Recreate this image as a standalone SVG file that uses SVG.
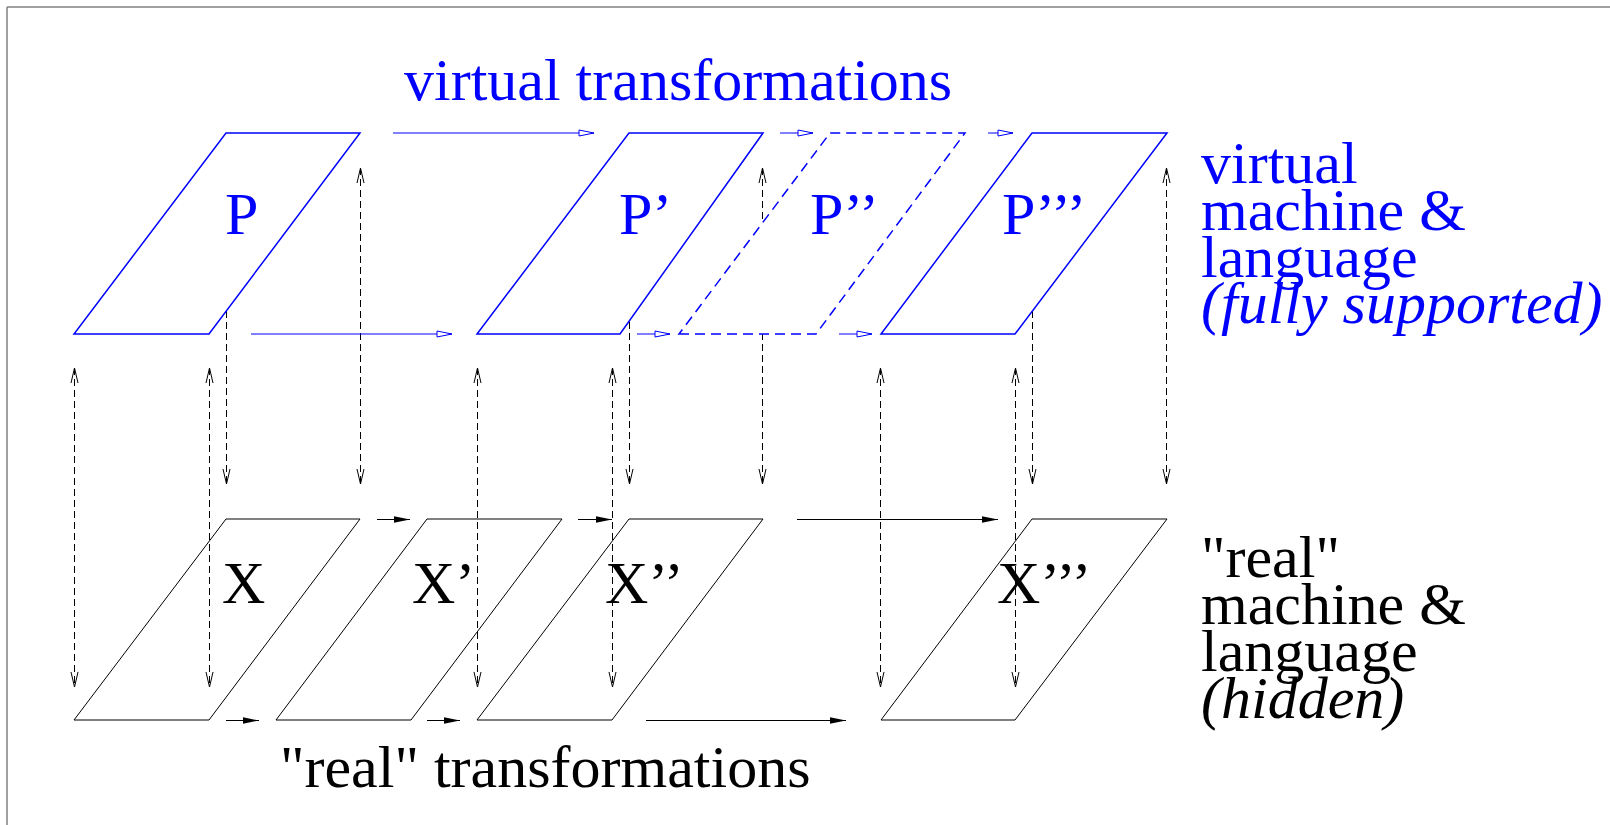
<svg xmlns="http://www.w3.org/2000/svg" width="1610" height="825" viewBox="0 0 1610 825">
<style>
  .t { font-family: "Liberation Serif", "Times New Roman", serif; font-size: 60px; }
  .blue { fill: #0000ff; }
  .black { fill: #000; }
  .it { font-style: italic; }
  .vp { fill: #ffffff; stroke: #0000ff; stroke-width: 1.5; stroke-linejoin: miter; }
  .vpd { fill: #ffffff; stroke: #0000ff; stroke-width: 1.5; stroke-dasharray: 10 6; }
  .rp { fill: none; stroke: #000; stroke-width: 1; }
  .va { stroke: #0000ff; stroke-width: 1; fill: none; marker-end: url(#openTri); }
  .ra { stroke: #000; stroke-width: 1; fill: none; marker-end: url(#solidTri); }
  .vd { stroke: #000; stroke-width: 1; fill: none; stroke-dasharray: 7 4; marker-end: url(#vee); }
  .vdd { stroke: #000; stroke-width: 1; fill: none; stroke-dasharray: 7 4; marker-start: url(#vee); marker-end: url(#vee); }
</style>
<defs>
  <marker id="openTri" markerUnits="userSpaceOnUse" markerWidth="17" markerHeight="9" refX="15" refY="4" orient="auto" overflow="visible">
    <path d="M0,1 L15,4 L0,7 Z" fill="#ffffff" stroke="#0000ff" stroke-width="1"/>
  </marker>
  <marker id="solidTri" markerUnits="userSpaceOnUse" markerWidth="17" markerHeight="9" refX="16" refY="4" orient="auto" overflow="visible">
    <path d="M0,0.8 L16,4 L0,7.2 Z" fill="#000" stroke="none"/>
  </marker>
  <marker id="vee" markerUnits="userSpaceOnUse" markerWidth="16" markerHeight="9" refX="15" refY="4" orient="auto-start-reverse" overflow="visible">
    <path d="M0,0.5 L15,4 L0,7.5" fill="none" stroke="#000" stroke-width="1"/>
  </marker>
</defs>

<g id="frame">
  <line x1="7" y1="7" x2="1610" y2="7" stroke="#808080" stroke-width="1.5"/>
  <line x1="7" y1="7" x2="7" y2="825" stroke="#808080" stroke-width="1.5"/>
</g>

<g id="connectors">
  <!-- vertical dashed arrows -->
  <line class="vdd" x1="74.5" y1="368" x2="74.5" y2="687"/>
  <line class="vdd" x1="209.5" y1="368" x2="209.5" y2="687"/>
  <line class="vdd" x1="226.5" y1="168" x2="226.5" y2="484"/>
  <line class="vdd" x1="360.5" y1="168" x2="360.5" y2="484"/>
  <line class="vdd" x1="477.5" y1="368" x2="477.5" y2="687"/>
  <line class="vdd" x1="612.5" y1="368" x2="612.5" y2="687"/>
  <line class="vdd" x1="629.5" y1="168" x2="629.5" y2="484"/>
  <line class="vdd" x1="762.5" y1="168" x2="762.5" y2="484"/>
  <line class="vdd" x1="880.5" y1="368" x2="880.5" y2="687"/>
  <line class="vdd" x1="1015.5" y1="368" x2="1015.5" y2="687"/>
  <line class="vdd" x1="1032.5" y1="168" x2="1032.5" y2="484"/>
  <line class="vdd" x1="1166.5" y1="168" x2="1166.5" y2="484"/>
  <!-- virtual transformations (top) -->
  <line class="va" x1="393" y1="133" x2="594" y2="133"/>
  <line class="va" x1="780" y1="133" x2="813" y2="133"/>
  <line class="va" x1="988" y1="133" x2="1013" y2="133"/>
  <!-- virtual transformations (bottom) -->
  <line class="va" x1="251" y1="334" x2="452" y2="334"/>
  <line class="va" x1="637" y1="334" x2="670" y2="334"/>
  <line class="va" x1="839" y1="334" x2="872" y2="334"/>
  <!-- real transformations (top) -->
  <line class="ra" x1="377" y1="519.5" x2="410" y2="519.5"/>
  <line class="ra" x1="578" y1="519.5" x2="612" y2="519.5"/>
  <line class="ra" x1="797" y1="519.5" x2="998" y2="519.5"/>
  <!-- real transformations (bottom) -->
  <line class="ra" x1="226" y1="720.5" x2="259" y2="720.5"/>
  <line class="ra" x1="427" y1="720.5" x2="460" y2="720.5"/>
  <line class="ra" x1="646" y1="720.5" x2="846" y2="720.5"/>
</g>

<g id="P">
  <polygon class="vp" points="74,334 209,334 360,133 226,133"/>
  <text class="t blue" x="225" y="234">P</text>
</g>
<g id="P1">
  <polygon class="vp" points="477,334 620,334 763,133 629,133"/>
  <text class="t blue" x="619" y="234">P’</text>
</g>
<g id="P2">
  <polygon class="vpd" points="679,334 816,334 965,133 830,133"/>
  <text class="t blue" x="810" y="234">P’’</text>
</g>
<g id="P3">
  <polygon class="vp" points="881,334 1015,334 1167,133 1032,133"/>
  <text class="t blue" x="1002" y="234">P’’’</text>
</g>

<g id="X">
  <polygon class="rp" points="74,720 209,720 360,519 226,519"/>
  <text class="t black" x="222" y="603">X</text>
</g>
<g id="X1">
  <polygon class="rp" points="276,720 411,720 562,519 427,519"/>
  <text class="t black" x="412" y="603">X’</text>
</g>
<g id="X2">
  <polygon class="rp" points="477,720 612,720 763,519 629,519"/>
  <text class="t black" x="605" y="603">X’’</text>
</g>
<g id="X3">
  <polygon class="rp" points="881,720 1015,720 1167,519 1032,519"/>
  <text class="t black" x="997" y="603">X’’’</text>
</g>

<g id="labels">
  <text class="t blue" x="404" y="100">virtual transformations</text>
  <text class="t black" x="280" y="787">"real" transformations</text>
  <text class="t blue" x="1201" y="183">virtual</text>
  <text class="t blue" x="1201" y="230">machine &amp;</text>
  <text class="t blue" x="1201" y="277">language</text>
  <text class="t blue it" x="1201" y="323">(fully supported)</text>
  <text class="t black" x="1201" y="577">"real"</text>
  <text class="t black" x="1201" y="624">machine &amp;</text>
  <text class="t black" x="1201" y="671">language</text>
  <text class="t black it" x="1201" y="718">(hidden)</text>
</g>
</svg>
